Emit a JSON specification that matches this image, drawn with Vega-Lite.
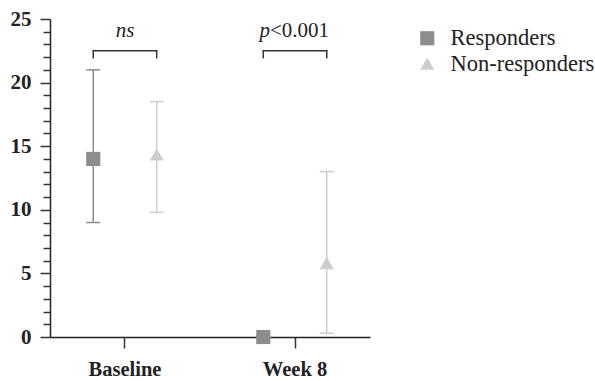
{
  "$schema": "https://vega.github.io/schema/vega-lite/v6.json",
  "width": 320,
  "height": 318,
  "autosize": {"type": "none"},
  "padding": {"left": 50, "top": 19, "right": 225, "bottom": 44},
  "background": "white",
  "config": {
    "view": {"stroke": null},
    "font": "Liberation Serif",
    "legend": {
      "orient": "none",
      "legendX": 366,
      "legendY": 8,
      "labelFont": "Liberation Serif",
      "labelFontSize": 22.5,
      "labelColor": "#222",
      "symbolSize": 200,
      "symbolStrokeWidth": 0,
      "symbolOpacity": 1,
      "labelOffset": 12,
      "rowPadding": 2.5,
      "padding": 0
    }
  },
  "datasets": {
    "stats": [
      {"time": "Baseline", "group": "Responders", "mean": 14.0, "lo": 9.0, "hi": 21.0},
      {"time": "Baseline", "group": "Non-responders", "mean": 14.35, "lo": 9.8, "hi": 18.5},
      {"time": "Week 8", "group": "Responders", "mean": 0.0, "lo": 0.0, "hi": 0.0},
      {"time": "Week 8", "group": "Non-responders", "mean": 5.8, "lo": 0.3, "hi": 13.0}
    ],
    "legs": [
      {"time": "Baseline", "group": "Responders"},
      {"time": "Baseline", "group": "Non-responders"},
      {"time": "Week 8", "group": "Responders"},
      {"time": "Week 8", "group": "Non-responders"}
    ],
    "bars": [
      {"time": "Baseline"},
      {"time": "Week 8"}
    ]
  },
  "encoding": {
    "x": {
      "field": "time",
      "type": "nominal",
      "scale": {"domain": ["Baseline", "Week 8"], "paddingInner": 0.5, "paddingOuter": 0.191},
      "axis": {
        "title": null,
        "labelAngle": 0,
        "labelFont": "Liberation Serif",
        "labelFontWeight": "bold",
        "labelFontSize": 20.5,
        "labelColor": "#222",
        "labelPadding": 11,
        "tickSize": 11,
        "tickWidth": 1.5,
        "tickColor": "#333",
        "domainColor": "#222",
        "domainWidth": 1.5,
        "grid": false
      }
    },
    "xOffset": {
      "field": "group",
      "type": "nominal",
      "scale": {"domain": ["Responders", "Non-responders"], "paddingInner": 0.8, "paddingOuter": 0.07}
    }
  },
  "layer": [
    {
      "data": {"name": "stats"},
      "mark": {"type": "rule", "strokeWidth": 1.5},
      "encoding": {
        "y": {
          "field": "lo",
          "type": "quantitative",
          "scale": {"domain": [0, 25], "nice": false},
          "axis": {
            "title": null,
            "tickCount": 25,
            "labelExpr": "datum.value % 5 === 0 ? datum.label : ''",
            "labelOverlap": false,
            "tickSize": {"condition": {"test": "datum.value % 5 === 0", "value": 10}, "value": 7},
            "tickWidth": 1.5,
            "tickColor": "#333",
            "domainColor": "#222",
            "domainWidth": 1.5,
            "labelFont": "Liberation Serif",
            "labelFontWeight": "bold",
            "labelFontSize": 21,
            "labelColor": "#222",
            "labelPadding": 9,
            "grid": false
          }
        },
        "y2": {"field": "hi"},
        "color": {
          "field": "group",
          "type": "nominal",
          "scale": {"domain": ["Responders", "Non-responders"], "range": ["#8d8d8f", "#cdcdcd"]},
          "legend": {"title": null}
        }
      }
    },
    {
      "data": {"name": "stats"},
      "mark": {"type": "tick", "orient": "horizontal", "size": 14, "thickness": 1.5, "opacity": 1},
      "encoding": {
        "y": {"field": "lo", "type": "quantitative"},
        "color": {"field": "group", "type": "nominal"}
      }
    },
    {
      "data": {"name": "stats"},
      "mark": {"type": "tick", "orient": "horizontal", "size": 14, "thickness": 1.5, "opacity": 1},
      "encoding": {
        "y": {"field": "hi", "type": "quantitative"},
        "color": {"field": "group", "type": "nominal"}
      }
    },
    {
      "data": {"name": "stats"},
      "mark": {"type": "point", "filled": true, "opacity": 1, "size": 200},
      "encoding": {
        "y": {"field": "mean", "type": "quantitative"},
        "color": {"field": "group", "type": "nominal"},
        "shape": {
          "field": "group",
          "type": "nominal",
          "scale": {"domain": ["Responders", "Non-responders"], "range": ["square", "triangle-up"]},
          "legend": {"title": null}
        }
      }
    },
    {
      "data": {"name": "legs"},
      "mark": {"type": "rule", "color": "#333", "strokeWidth": 1.5},
      "encoding": {
        "y": {"datum": 21.9, "type": "quantitative"},
        "y2": {"datum": 22.5}
      }
    },
    {
      "data": {"name": "bars"},
      "mark": {"type": "tick", "orient": "horizontal", "size": 65, "thickness": 1.5, "color": "#333", "opacity": 1},
      "encoding": {
        "xOffset": null,
        "y": {"datum": 22.5, "type": "quantitative"}
      }
    },
    {
      "data": {"values": [{"time": "Baseline", "label": "ns"}]},
      "mark": {"type": "text", "fontStyle": "italic", "fontSize": 21, "baseline": "alphabetic", "align": "center", "color": "#222", "font": "Liberation Serif"},
      "encoding": {
        "xOffset": null,
        "y": {"datum": 23.6, "type": "quantitative"},
        "text": {"field": "label"}
      }
    },
    {
      "data": {"values": [{"time": "Week 8", "label": "p"}]},
      "mark": {"type": "text", "fontStyle": "italic", "fontSize": 21, "baseline": "alphabetic", "align": "right", "dx": -25, "color": "#222", "font": "Liberation Serif"},
      "encoding": {
        "xOffset": null,
        "y": {"datum": 23.6, "type": "quantitative"},
        "text": {"field": "label"}
      }
    },
    {
      "data": {"values": [{"time": "Week 8", "label": "<0.001"}]},
      "mark": {"type": "text", "fontSize": 21, "baseline": "alphabetic", "align": "left", "dx": -25, "color": "#222", "font": "Liberation Serif"},
      "encoding": {
        "xOffset": null,
        "y": {"datum": 23.6, "type": "quantitative"},
        "text": {"field": "label"}
      }
    }
  ]
}
